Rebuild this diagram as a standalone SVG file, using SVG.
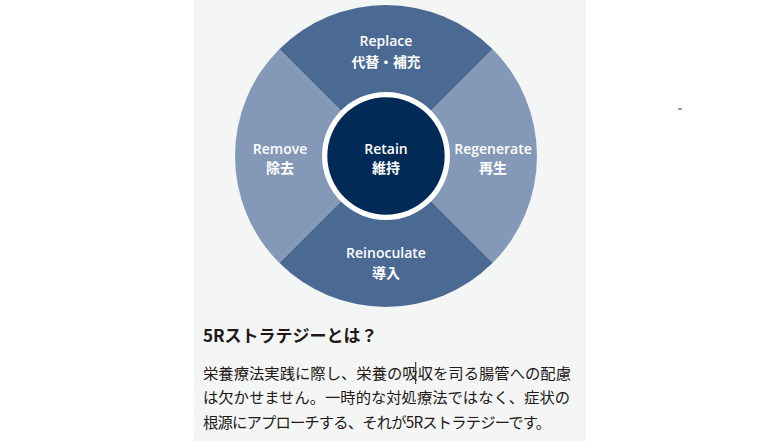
<svg xmlns="http://www.w3.org/2000/svg" width="760" height="441" viewBox="0 0 760 441">
<style>
.lbl{font-family:"Open Sans","Noto Sans CJK JP",sans-serif;font-weight:600;font-size:14px;fill:#ffffff;text-anchor:middle}
.jp{font-family:"Noto Sans CJK JP",sans-serif;font-weight:700;font-size:14px;fill:#ffffff;text-anchor:middle}
.dark{fill:#4a6a93}
.light{fill:#8399b7}
.head{font-family:"Noto Sans CJK JP",sans-serif;font-weight:700;font-size:17px;fill:#231815}
.body{font-family:"Noto Sans CJK JP",sans-serif;font-weight:400;font-size:15.3px;fill:#231815}
</style>
<rect x="0" y="0" width="760" height="441" fill="#ffffff"/>
<rect x="194" y="0" width="392" height="441" fill="#f4f6f6"/>
<rect x="678" y="108" width="4" height="2" fill="#9a9a9a"/>
<g id="replace">
<path class="dark" d="M386,156 L279.23,49.23 A151,151 0 0 1 492.77,49.23 Z"/>
<text class="lbl" x="386" y="45.5">Replace</text>
<text class="jp" x="386" y="66.5" textLength="69" lengthAdjust="spacingAndGlyphs">代替・補充</text>
</g>
<g id="regenerate">
<path class="light" d="M386,156 L492.77,49.23 A151,151 0 0 1 492.77,262.77 Z"/>
<text class="lbl" x="493" y="153.5">Regenerate</text>
<text class="jp" x="493" y="173">再生</text>
</g>
<g id="reinoculate">
<path class="dark" d="M386,156 L492.77,262.77 A151,151 0 0 1 279.23,262.77 Z"/>
<text class="lbl" x="386" y="258">Reinoculate</text>
<text class="jp" x="386" y="278">導入</text>
</g>
<g id="remove">
<path class="light" d="M386,156 L279.23,262.77 A151,151 0 0 1 279.23,49.23 Z"/>
<text class="lbl" x="280" y="153.5">Remove</text>
<text class="jp" x="280" y="173">除去</text>
</g>
<g id="retain">
<circle cx="386" cy="156" r="64" fill="#ffffff"/>
<circle cx="386" cy="156" r="58.7" fill="#022a57"/>
<text class="lbl" x="386" y="153.5">Retain</text>
<text class="jp" x="386" y="173">維持</text>
</g>
<g id="connectors"></g>
<g id="caption">
<text class="head" x="203" y="341.5">5Rストラテジーとは？</text>
<text class="body" x="203" y="378.5" textLength="368" lengthAdjust="spacing">栄養療法実践に際し、栄養の吸収を司る腸管への配慮</text>
<text class="body" x="203" y="403" textLength="367" lengthAdjust="spacing">は欠かせません。一時的な対処療法ではなく、症状の</text>
<text class="body" x="203" y="428" textLength="348" lengthAdjust="spacing">根源にアプローチする、それが5Rストラテジーです。</text>
<line x1="415.7" y1="362" x2="415.7" y2="384" stroke="#231815" stroke-width="1"/>
</g>
</svg>
